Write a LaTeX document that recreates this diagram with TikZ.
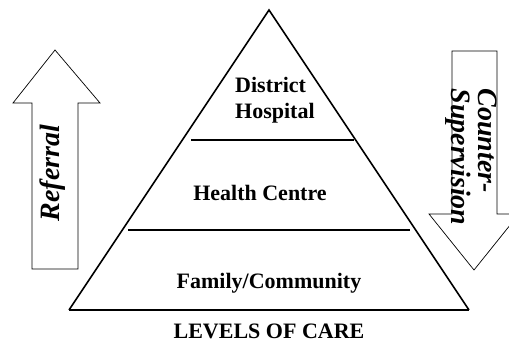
\documentclass[tikz,border=0pt]{standalone}
\usepackage{fontspec}
\setmainfont{Liberation Serif}
\usetikzlibrary{calc}

\begin{document}
\begin{tikzpicture}[
  x=1pt, y=1pt,
  line join=miter,
  side/.style={line width=1.6pt},
  divider/.style={line width=1.6pt},
  arrowline/.style={line width=0.7pt},
  lab/.style={font=\bfseries\fontsize{22}{26}\selectfont, align=center, inner sep=0pt},
  flow/.style={font=\bfseries\itshape\fontsize{28}{27}\selectfont, align=left, inner sep=0pt}
]

\clip (0,0) rectangle (509,352);

% --- Pyramid corners ---
\coordinate (A) at (69,42);    % base left
\coordinate (B) at (469,42);   % base right
\coordinate (T) at (269,342);  % apex

% --- Level dividers ---
\coordinate (U1) at (191,212);
\coordinate (U2) at (354,212);
\coordinate (M1) at (128,122);
\coordinate (M2) at (410,122);

% Pyramid
\draw[side] (A)--(T)--(B);
\draw[line width=2pt] (A)--(B);
\draw[divider] (U1)--(U2);
\draw[divider] (M1)--(M2);

% Levels
\node[lab, align=left, anchor=west] (hosp) at (235,252) {District\\Hospital};
\node[lab] (centre) at (260,159) {Health Centre};
\node[lab] (family) at (269,69) {Family/Community};
\node[lab] (caption) at (269,21) {LEVELS OF CARE};

% --- Referral arrow (up) ---
\draw[arrowline] (55,302) -- (100,249) -- (78,249) -- (78,83)
  -- (32,83) -- (32,249) -- (13,249) -- cycle;
\node[flow, rotate=90] (referral) at (53,179) {Referral};

% --- Counter-supervision arrow (down) ---
\draw[arrowline] (452,301) -- (497,301) -- (497,138) -- (519,138)
  -- (474,82) -- (429,138) -- (452,138) -- cycle;
\node[flow, rotate=-90] (supervision) at (471,195) {Counter-\\Supervision};

\end{tikzpicture}
\end{document}
